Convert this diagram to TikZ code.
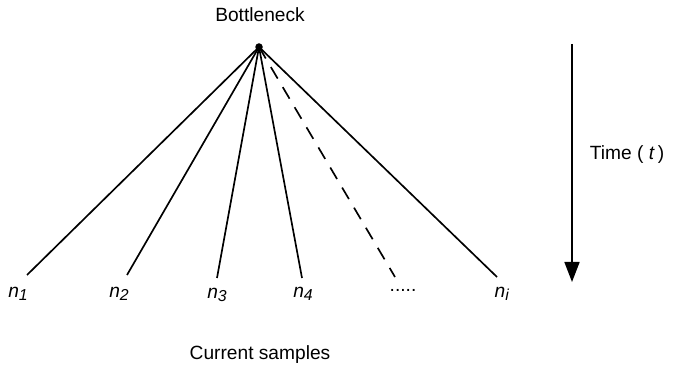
\documentclass[tikz,border=0pt]{standalone}
\usepackage{fontspec}
\setmainfont{Liberation Sans}
\usepackage{tikz}
\usetikzlibrary{arrows.meta}

\newcommand{\smp}[1]{\textit{n}\raisebox{-0.35ex}{\fontsize{9.5}{10}\selectfont\textit{#1}}}

\begin{document}
\begin{tikzpicture}[x=0.6pt,y=-0.6pt,
  every node/.style={font=\fontsize{11.5}{13}\selectfont},
  lin/.style={line width=1pt},
  dsh/.style={line width=1pt,dash pattern=on 8pt off 6pt},
  lbl/.style={inner sep=1pt},
  tarrow/.style={-{Triangle[length=12pt,width=9pt]},line width=1pt}]
 \useasboundingbox (0,0) rectangle (679,370);
 \node[circle,fill,inner sep=0pt,minimum size=4.5pt] (bn) at (259,47) {};
 \node (bnl) at (260,15) {Bottleneck};
 % end points of the lineages
 \coordinate (e1) at (27,275);
 \coordinate (e2) at (127,275);
 \coordinate (e3) at (217,278);
 \coordinate (e4) at (302,278);
 \coordinate (ed) at (395,277);
 \coordinate (ei) at (497,277);
 \node[lbl] (n1) at (18,294) {\smp{1}};
 \node[lbl] (n2) at (119,294) {\smp{2}};
 \node[lbl] (n3) at (217,295) {\smp{3}};
 \node[lbl] (n4) at (303,294) {\smp{4}};
 \node[lbl] (dots) at (403,290) {.....};
 \node[lbl] (ni) at (502,294) {\smp{i}};
 \node (cur) at (260,355) {Current samples};
 \foreach \e in {e1,e2,e3,e4,ei} \draw[lin] (bn.center) -- (\e);
 \draw[dsh] (bn.center) -- (ed);
 % time axis
 \coordinate (ttop) at (572,44);
 \coordinate (tbot) at (572,282);
 \draw[tarrow] (ttop) -- (tbot);
 \node[anchor=west] (tl) at (584,155) {Time (\ \textit{t}\,)};
\end{tikzpicture}
\end{document}
